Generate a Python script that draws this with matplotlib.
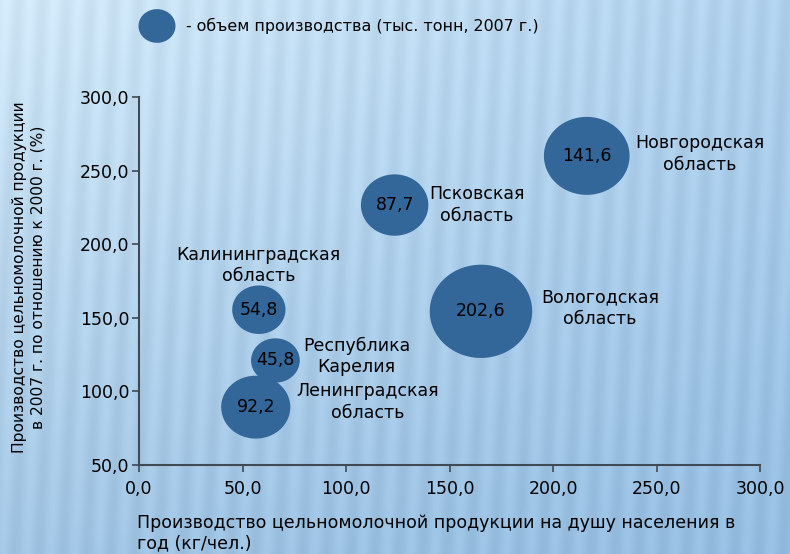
import matplotlib
matplotlib.use("Agg")
import matplotlib.pyplot as plt
import numpy as np
from matplotlib.path import Path

# data: per-capita output (kg/person), growth 2007 vs 2000 (%), volume (thousand t, 2007)
regions = ["Новгородская\nобласть", "Псковская\nобласть", "Вологодская\nобласть",
           "Калининградская\nобласть", "Республика\nКарелия", "Ленинградская\nобласть"]
per_capita = [216.3, 123.5, 165.2, 57.9, 65.9, 56.4]
growth = [260.0, 226.6, 154.4, 155.5, 121.0, 89.3]
volume = [141.6, 87.7, 202.6, 54.8, 45.8, 92.2]
volume_labels = ["141,6", "87,7", "202,6", "54,8", "45,8", "92,2"]

# label offsets in pixels relative to bubble centre
label_dx = [113, 82, 119, 0, 81, 112]
label_dy = [2, 0, 3, 44, 4, 5]

x_ticks = [0, 50, 100, 150, 200, 250, 300]
y_ticks = [50, 100, 150, 200, 250, 300]

BUBBLE = "#336699"
AXIS = "#3f4a55"
FS = 12.5

plt.rcParams["font.family"] = ["DejaVu Sans"]

fig = plt.figure(figsize=(7.9, 5.54), dpi=100)

# background: blue gradient with soft vertical stripes
H, W = 554, 790
yy, xx = np.mgrid[0:H, 0:W]
t = (yy / H)[..., None]
s = (xx / W)[..., None]
tl = np.array([0.82, 0.91, 0.97])
tr = np.array([0.69, 0.82, 0.93])
bl = np.array([0.63, 0.77, 0.89])
br = np.array([0.58, 0.74, 0.88])
base = (tl * (1 - s) * (1 - t) + tr * s * (1 - t) + bl * (1 - s) * t + br * s * t)
stripes = 0.022 * np.sin(2 * np.pi * (xx + 0.05 * yy) / 24.0)
img = np.clip(base + stripes[..., None], 0, 1)
bg = fig.add_axes([0, 0, 1, 1], zorder=-10)
bg.imshow(img, aspect="auto", interpolation="bilinear")
bg.axis("off")

ax = fig.add_axes([139 / W, 89 / H, 621 / W, 368 / H])
ax.patch.set_alpha(0)

# slightly flattened circle marker (source image is horizontally stretched)
theta = np.linspace(0, 2 * np.pi, 120)
ell = Path(np.column_stack([np.cos(theta), 0.91 * np.sin(theta)]), closed=True)

sizes_pt = [(7.2 * np.sqrt(v) * 0.72) ** 2 for v in volume]
ax.scatter(per_capita, growth, s=sizes_pt, marker=ell, color=BUBBLE,
           edgecolors="none", zorder=3, clip_on=False)

for x, y, lab in zip(per_capita, growth, volume_labels):
    ax.text(x, y, lab, ha="center", va="center", fontsize=FS, color="black", zorder=4)

for x, y, name, dx, dy in zip(per_capita, growth, regions, label_dx, label_dy):
    ax.annotate(name, (x, y), xytext=(dx, dy), textcoords="offset pixels",
                ha="center", va="center", fontsize=FS, linespacing=1.25, zorder=4)

ax.set_xlim(0, 300)
ax.set_ylim(50, 300)
ax.set_xticks(x_ticks)
ax.set_yticks(y_ticks)
ax.set_xticklabels([f"{v:.1f}".replace(".", ",") for v in x_ticks])
ax.set_yticklabels([f"{v:.1f}".replace(".", ",") for v in y_ticks])
for side in ["top", "right"]:
    ax.spines[side].set_visible(False)
for side in ["left", "bottom"]:
    ax.spines[side].set_color(AXIS)
    ax.spines[side].set_linewidth(1.5)
ax.tick_params(direction="out", length=5, width=1.2, color=AXIS,
               labelsize=FS, labelcolor="black")
ax.tick_params(axis="x", pad=6)
ax.tick_params(axis="y", pad=2)

fig.text(137 / W, 1 - 533 / H,
         "Производство цельномолочной продукции на душу населения в\nгод (кг/чел.)",
         ha="left", va="center", fontsize=FS, linespacing=1.2)
fig.text(29 / W, 1 - 277 / H,
         "Производство цельномолочной продукции\nв 2007 г. по отношению к 2000 г. (%)",
         ha="center", va="center", rotation=90, fontsize=11.2, linespacing=1.3)

# legend bubble
leg = fig.add_axes([0, 0, 1, 1], zorder=5)
leg.set_xlim(0, W)
leg.set_ylim(H, 0)
leg.axis("off")
leg.scatter([157], [26], s=(37 * 0.72) ** 2, marker=ell, color=BUBBLE, edgecolors="none")
leg.text(186, 26, "- объем производства (тыс. тонн, 2007 г.)", ha="left", va="center",
         fontsize=11.4)

fig.savefig("out.png", dpi=100)
